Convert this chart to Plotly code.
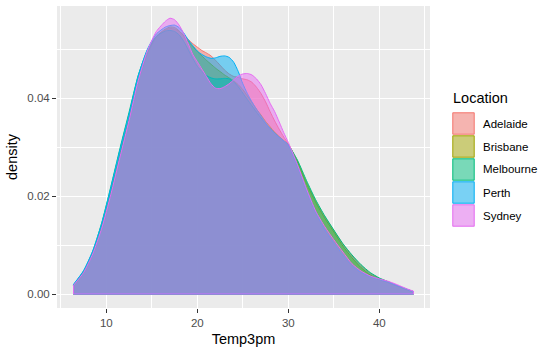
import plotly.graph_objects as go

# ---- data ----
temp = [6.4, 7.5, 8.5, 9.5, 10.5, 11.5, 12.5, 13.5, 14.5, 15.5, 16.5, 17, 17.5, 18, 18.5,
        19, 19.5, 20, 20.5, 21, 21.5, 22, 22.5, 23, 23.5, 24, 24.5, 25, 25.5, 26, 26.5,
        27, 27.5, 28, 28.5, 29, 29.5, 30, 31, 32, 33, 34, 35, 36, 37, 38, 39, 40, 41,
        42, 43, 43.75]

adelaide = [0.0018, 0.0044, 0.0083, 0.0137, 0.0206, 0.0282, 0.0355, 0.0433, 0.0490, 0.0525,
            0.0540, 0.0543, 0.0542, 0.0537, 0.0530, 0.0521, 0.0512, 0.0505, 0.0498, 0.0493,
            0.0487, 0.0478, 0.0468, 0.0458, 0.0450, 0.0445, 0.0443, 0.0440, 0.0438, 0.0433,
            0.0423, 0.0410, 0.0393, 0.0373, 0.0354, 0.0337, 0.0321, 0.0307, 0.0272, 0.0228,
            0.0190, 0.0158, 0.0130, 0.0102, 0.0078, 0.0058, 0.0042, 0.0032, 0.0025, 0.0017,
            0.0010, 0.0005]
brisbane = [0.0018, 0.0045, 0.0084, 0.0139, 0.0210, 0.0287, 0.0360, 0.0438, 0.0493, 0.0527,
            0.0542, 0.0546, 0.0545, 0.0538, 0.0528, 0.0517, 0.0506, 0.0496, 0.0487, 0.0478,
            0.0470, 0.0462, 0.0455, 0.0448, 0.0442, 0.0436, 0.0428, 0.0418, 0.0405, 0.0392,
            0.0378, 0.0366, 0.0353, 0.0342, 0.0331, 0.0322, 0.0314, 0.0306, 0.0270, 0.0226,
            0.0188, 0.0155, 0.0127, 0.0098, 0.0074, 0.0054, 0.0039, 0.0030, 0.0023, 0.0016,
            0.0009, 0.0004]
melbourne = [0.0019, 0.0047, 0.0087, 0.0146, 0.0220, 0.0298, 0.0372, 0.0447, 0.0498, 0.0527,
             0.0538, 0.0539, 0.0537, 0.0530, 0.0517, 0.0500, 0.0482, 0.0466, 0.0455, 0.0447,
             0.0442, 0.0440, 0.0440, 0.0441, 0.0440, 0.0434, 0.0424, 0.0411, 0.0398, 0.0385,
             0.0372, 0.0360, 0.0349, 0.0339, 0.0330, 0.0321, 0.0313, 0.0305, 0.0274, 0.0232,
             0.0193, 0.0160, 0.0131, 0.0103, 0.0080, 0.0060, 0.0044, 0.0033, 0.0025, 0.0017,
             0.0010, 0.0005]
perth = [0.0020, 0.0048, 0.0088, 0.0145, 0.0218, 0.0295, 0.0368, 0.0446, 0.0500, 0.0532,
         0.0546, 0.0549, 0.0550, 0.0545, 0.0534, 0.0520, 0.0508, 0.0497, 0.0490, 0.0485,
         0.0482, 0.0483, 0.0486, 0.0487, 0.0484, 0.0474, 0.0455, 0.0430, 0.0410, 0.0393,
         0.0378, 0.0364, 0.0350, 0.0338, 0.0328, 0.0320, 0.0313, 0.0305, 0.0262, 0.0212,
         0.0168, 0.0132, 0.0105, 0.0080, 0.0058, 0.0044, 0.0036, 0.0030, 0.0024, 0.0017,
         0.0010, 0.0005]
sydney = [0.0018, 0.0044, 0.0082, 0.0135, 0.0204, 0.0280, 0.0355, 0.0436, 0.0497, 0.0537,
          0.0558, 0.0564, 0.0561, 0.0550, 0.0533, 0.0512, 0.0490, 0.0475, 0.0460, 0.0445,
          0.0430, 0.0421, 0.0420, 0.0424, 0.0430, 0.0438, 0.0446, 0.0450, 0.0451, 0.0448,
          0.0440, 0.0428, 0.0410, 0.0390, 0.0373, 0.0352, 0.0330, 0.0310, 0.0265, 0.0215,
          0.0170, 0.0138, 0.0111, 0.0086, 0.0062, 0.0047, 0.0037, 0.0031, 0.0026, 0.0019,
          0.0011, 0.0006]

locations = ["Adelaide", "Brisbane", "Melbourne", "Perth", "Sydney"]
series = [adelaide, brisbane, melbourne, perth, sydney]
colors = ["#F8766D", "#A3A500", "#00BF7D", "#00B0F6", "#E76BF3"]

x_ticks = [10, 20, 30, 40]
y_ticks = [0.0, 0.02, 0.04]
y_tick_labels = ["0.00", "0.02", "0.04"]


def rgba(h, a):
    h = h.lstrip("#")
    r, g, b = int(h[0:2], 16), int(h[2:4], 16), int(h[4:6], 16)
    return f"rgba({r},{g},{b},{a})"


fig = go.Figure()
for name, ys, col in zip(locations, series, colors):
    # filled density area (smooth upper curve, filled down to zero)
    fig.add_trace(go.Scatter(
        x=temp, y=ys, mode="lines", fill="tozeroy", name=name,
        fillcolor=rgba(col, 0.5),
        line=dict(color=col, width=1, shape="spline", smoothing=0.6),
        showlegend=False, hoverinfo="skip"))
    # remaining outline: end edges and baseline of the polygon
    fig.add_trace(go.Scatter(
        x=[temp[0], temp[0], temp[-1], temp[-1]], y=[ys[0], 0.0, 0.0, ys[-1]],
        mode="lines", line=dict(color=col, width=1), showlegend=False,
        hoverinfo="skip"))

# ---- layout geometry (pixels) ----
W, H = 555, 354
PL, PR, PT, PB = 57, 430, 6, 308


def px(X):
    return (X - PL) / (PR - PL)


def py(Y):
    return (PB - Y) / (PB - PT)


shapes = []
annotations = []
# legend
annotations.append(dict(text="Location", x=px(451), y=py(98), xref="paper", yref="paper",
                        xanchor="left", yanchor="middle", showarrow=False,
                        font=dict(size=14.5, color="black")))
key_top, key_h, key_w, key_x = 112, 23, 23, 452
for i, (name, col) in enumerate(zip(locations, colors)):
    y0 = key_top + i * key_h
    shapes.append(dict(type="rect", xref="paper", yref="paper",
                       x0=px(key_x), x1=px(key_x + key_w), y0=py(y0), y1=py(y0 + key_h),
                       fillcolor="#F2F2F2", line=dict(width=0), layer="above"))
    shapes.append(dict(type="rect", xref="paper", yref="paper",
                       x0=px(key_x + 0.8), x1=px(key_x + key_w - 0.8),
                       y0=py(y0 + 0.8), y1=py(y0 + key_h - 0.8),
                       fillcolor=rgba(col, 0.5), line=dict(color=col, width=1), layer="above"))
    annotations.append(dict(text=name, x=px(481), y=py(y0 + key_h / 2), xref="paper",
                            yref="paper", xanchor="left", yanchor="middle", showarrow=False,
                            font=dict(size=11.5, color="black")))

fig.update_layout(
    width=W, height=H,
    margin=dict(l=PL, r=W - PR, t=PT, b=H - PB, pad=0),
    paper_bgcolor="white", plot_bgcolor="#EBEBEB",
    font=dict(family="Liberation Sans, Arial, sans-serif"),
    shapes=shapes, annotations=annotations, showlegend=False,
    xaxis=dict(range=[4.58, 45.57], tickvals=x_ticks, ticks="outside", ticklen=4,
               tickcolor="#333333", tickwidth=1, showgrid=True, gridcolor="white",
               gridwidth=1.1, zeroline=False, showline=False,
               tickfont=dict(size=11.5, color="#4D4D4D"),
               minor=dict(tickvals=[5, 15, 25, 35, 45], showgrid=True, gridcolor="white",
                          gridwidth=0.5, ticklen=0),
               title=dict(text="Temp3pm", font=dict(size=14.5, color="black"), standoff=6)),
    yaxis=dict(range=[-0.00285, 0.0589], tickvals=y_ticks, ticktext=y_tick_labels,
               ticks="outside", ticklen=4, tickcolor="#333333", tickwidth=1,
               showgrid=True, gridcolor="white", gridwidth=1.1, zeroline=False,
               showline=False, tickfont=dict(size=11.5, color="#4D4D4D"),
               minor=dict(tickvals=[0.01, 0.03, 0.05], showgrid=True, gridcolor="white",
                          gridwidth=0.5, ticklen=0),
               title=dict(text="density", font=dict(size=14.5, color="black"), standoff=6)),
)

fig.write_html("out.html")
